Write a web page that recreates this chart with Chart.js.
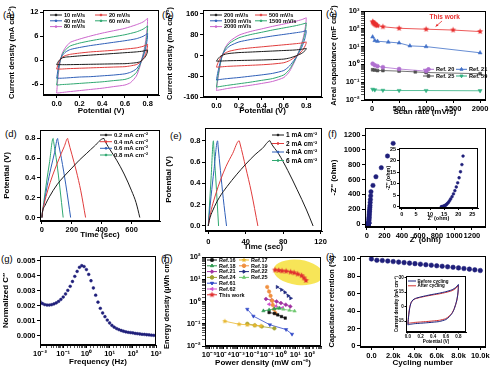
<!DOCTYPE html>
<html><head><meta charset="utf-8">
<script src="https://cdn.jsdelivr.net/npm/chart.js@4.4.1/dist/chart.umd.min.js"></script>
<style>
html,body{margin:0;padding:0;background:#fff;}
body{width:490px;height:370px;position:relative;overflow:hidden;}
canvas{position:absolute;}
.plab{position:absolute;font-family:"Liberation Sans",Arial,sans-serif;font-size:9.5px;line-height:1;color:#000;}
</style></head><body>
<div class="plab" style="left:3px;top:10px">(a)</div>
<div class="plab" style="left:162px;top:10px">(b)</div>
<div class="plab" style="left:326px;top:9px">(c)</div>
<div class="plab" style="left:5px;top:129px">(d)</div>
<div class="plab" style="left:170px;top:131px">(e)</div>
<div class="plab" style="left:328px;top:129px">(f)</div>
<div class="plab" style="left:1px;top:254px">(g)</div>
<div class="plab" style="left:161px;top:254px">(h)</div>
<div class="plab" style="left:326px;top:252px">(i)</div>
<script>
// ================= DATA =================
// tick values
const potTicks = [0, 0.2, 0.4, 0.6, 0.8];
const aYTicks = [-6, 0, 6, 12];
const bYTicks = [-160, -80, 0, 80, 160];
const cXTicks = [0, 500, 1000, 1500, 2000];
const dXTicks = [0, 200, 400, 600];
const eXTicks = [0, 40, 80, 120];
const fTicks = [0, 200, 400, 600, 800, 1000, 1200];
const fInTicks = [0, 5, 10, 15, 20, 25];
const gYTicks = [0, 0.001, 0.002, 0.003, 0.004, 0.005];
const iXTicks = [0, 2000, 4000, 6000, 8000, 10000];
const iYTicks = [0, 20, 40, 60, 80, 100];
const iInYTicks = [-15, 0, 15, 30];

// (a) CV at low scan rates: forward / reverse potential grids and currents (mA cm-2)
const cvFwdV = [0, 0.005, 0.015, 0.03, 0.05, 0.08, 0.12, 0.2, 0.3, 0.4, 0.5, 0.6, 0.7, 0.76, 0.8];
const cvRevV = [0.8, 0.798, 0.79, 0.775, 0.755, 0.73, 0.7, 0.65, 0.6, 0.5, 0.4, 0.3, 0.2, 0.1, 0.04, 0.01, 0];
const aLabels = ['10 mV/s', '20 mV/s', '40 mV/s', '60 mV/s', '80 mV/s'];
const a10Fwd = [-1.1, -0.8, -0.3, 0.2, 0.6, 0.8, 0.9, 1.1, 1.3, 1.5, 1.7, 1.9, 2.1, 2.3, 2.6];
const a10Rev = [2.6, 2.1, 1.4, 0.7, 0.1, -0.4, -0.6, -0.75, -0.85, -0.9, -0.95, -1.0, -1.05, -1.1, -1.1, -1.1, -1.1];
const a20Fwd = [-2.2, -1.7, -0.8, 0.1, 0.8, 1.2, 1.5, 1.8, 2.1, 2.3, 2.5, 2.8, 3.1, 3.5, 4.0];
const a20Rev = [4.0, 3.3, 2.3, 1.1, 0.2, -0.6, -1.1, -1.4, -1.6, -1.7, -1.8, -1.9, -2.0, -2.1, -2.2, -2.2, -2.2];
const a40Fwd = [-4.5, -3.6, -1.8, 0, 1.2, 2.1, 2.7, 3.2, 3.7, 4.1, 4.5, 4.9, 5.4, 6.0, 6.7];
const a40Rev = [6.7, 5.6, 4.0, 2.1, 0.5, -1.0, -2.2, -3.0, -3.4, -3.7, -3.9, -4.1, -4.2, -4.4, -4.5, -4.5, -4.5];
const a60Fwd = [-6.2, -5.0, -2.6, -0.3, 1.5, 2.7, 3.6, 4.3, 4.9, 5.4, 5.9, 6.4, 7.1, 7.8, 8.6];
const a60Rev = [8.6, 7.3, 5.2, 2.8, 0.7, -1.4, -3.1, -4.3, -4.8, -5.1, -5.4, -5.6, -5.8, -6.0, -6.1, -6.2, -6.2];
const a80Fwd = [-8.2, -6.5, -3.5, -0.5, 1.8, 3.3, 4.5, 5.3, 6.1, 6.8, 7.4, 8.0, 8.9, 9.6, 10.5];
const a80Rev = [10.5, 9.0, 6.5, 3.5, 1.0, -1.8, -4.0, -5.6, -6.2, -6.6, -7.0, -7.3, -7.6, -7.9, -8.1, -8.2, -8.2];
// (b) CV at high scan rates
const bLabels = ['200 mV/s', '500 mV/s', '1000 mV/s', '1500 mV/s', '2000 mV/s'];
const b200Fwd = [-22, -18, -12, -5, 0, 5, 8, 11, 13, 15, 17, 19, 21, 24, 27];
const b200Rev = [27, 24, 19, 13, 7, 2, -3, -10, -14, -16, -17.5, -18.5, -19.5, -20.5, -21.5, -22, -22];
const b500Fwd = [-45, -38, -27, -13, 0, 10, 17, 24, 29, 33, 37, 41, 45, 48, 52];
const b500Rev = [52, 46, 37, 25, 14, 4, -6, -20, -28, -33, -36, -38, -40, -42, -44, -45, -45];
const b1000Fwd = [-95, -81, -59, -31, -1, 21, 37, 52, 61, 68, 75, 81, 87, 91, 96];
const b1000Rev = [96, 86, 69, 48, 27, 7, -13, -41, -58, -69, -75, -80, -85, -89, -92, -94, -95];
const b1500Fwd = [-122, -104, -76, -40, -2, 28, 48, 68, 80, 89, 98, 106, 114, 120, 125];
const b1500Rev = [125, 112, 90, 62, 36, 10, -17, -54, -75, -89, -96, -103, -109, -115, -119, -121, -122];
const b2000Fwd = [-135, -115, -85, -45, -2, 32, 55, 78, 92, 102, 112, 121, 131, 138, 145];
const b2000Rev = [145, 130, 105, 72, 42, 12, -20, -62, -85, -100, -108, -115, -121, -127, -132, -134, -135];
// (c) areal capacitance vs scan rate
const cRef20X = [10, 50, 100, 200, 500, 1000];
const cRef20Y = [1.1, 0.9, 0.8, 0.7, 0.55, 0.42];
const cRef21X = [10, 50, 100, 300, 500, 700, 1000, 2000];
const cRef21Y = [35, 22, 20, 18, 16, 11, 10, 4.5];
const cRef25X = [10, 50, 100, 200, 500, 800, 1000, 2000];
const cRef25Y = [0.5, 0.48, 0.45, 0.45, 0.42, 0.38, 0.35, 0.3];
const cRef59X = [10, 50, 200, 500, 1000, 2000];
const cRef59Y = [0.04, 0.037, 0.035, 0.034, 0.034, 0.033];
const cThisX = [10, 20, 30, 40, 50, 60, 80, 100, 200, 500, 1000, 1500, 2000];
const cThisY = [250, 230, 210, 200, 185, 170, 160, 150, 130, 107, 95, 85, 70];
// (d) charge/discharge at 0.2-0.8 mA cm-2 (time s, potential V)
const d02T = [0, 3, 20, 50, 100, 150, 200, 250, 300, 350, 415, 420, 450, 500, 550, 600, 630, 655];
const d02V = [0, 0.05, 0.12, 0.21, 0.33, 0.42, 0.5, 0.58, 0.65, 0.72, 0.8, 0.78, 0.7, 0.58, 0.44, 0.27, 0.15, 0];
const d04T = [0, 3, 15, 40, 70, 100, 130, 150, 172, 175, 200, 230, 260, 292];
const d04V = [0, 0.05, 0.14, 0.28, 0.42, 0.54, 0.65, 0.72, 0.8, 0.78, 0.64, 0.47, 0.27, 0];
const d06T = [0, 3, 15, 35, 60, 85, 105, 108, 130, 160, 192];
const d06V = [0, 0.05, 0.15, 0.32, 0.5, 0.66, 0.8, 0.77, 0.6, 0.33, 0];
const d08T = [0, 3, 12, 30, 50, 75, 78, 100, 120, 142];
const d08V = [0, 0.05, 0.15, 0.35, 0.55, 0.8, 0.77, 0.55, 0.3, 0];
// (e) charge/discharge at 1-6 mA cm-2
const e1T = [0, 1, 5, 12, 20, 30, 40, 50, 58, 66, 67, 75, 85, 95, 105, 112];
const e1V = [0, 0.05, 0.15, 0.27, 0.37, 0.48, 0.58, 0.67, 0.73, 0.8, 0.78, 0.68, 0.52, 0.34, 0.15, 0];
const e2T = [0, 1, 4, 8, 13, 19, 26, 33, 34, 40, 46, 53];
const e2V = [0, 0.06, 0.18, 0.3, 0.43, 0.56, 0.68, 0.8, 0.77, 0.55, 0.32, 0];
const e4T = [0, 1, 3, 6, 10, 10.5, 13, 16, 19.5];
const e4V = [0, 0.1, 0.28, 0.52, 0.8, 0.75, 0.52, 0.26, 0];
const e6T = [0, 1, 3, 5.5, 6, 8, 11];
const e6V = [0, 0.15, 0.45, 0.8, 0.72, 0.45, 0];
// (f) Nyquist plot (ohm)
const fRe = [14.0,14.3,14.6,14.9,15.2,15.5,15.8,16.1,16.5,16.9,17.3,17.8,18.3,18.8,19.3,19.8,20.3,20.8,21.3,21.7,22.5,23,24,25,26,27,28,29.5,31,33,35,37.5,40,43,46,69,103,164,235,300];
const fIm = [0.05,0.1,0.2,0.35,0.5,0.7,1.0,1.4,1.9,2.6,3.4,4.4,5.6,7.0,8.6,10.4,12.6,15.2,18.3,22,45,58,75,92,110,130,150,172,195,222,250,290,330,380,436,521,638,760,917,1088];
// (g) normalized imaginary capacitance vs frequency
const gFreq = [0.01,0.0126,0.0158,0.02,0.0251,0.0316,0.0398,0.0501,0.0631,0.0794,0.1,0.126,0.158,0.2,0.251,0.316,0.398,0.501,0.631,0.794,1,1.26,1.58,2,2.51,3.16,3.98,5.01,6.31,7.94,10,12.6,15.8,20,25.1,31.6,39.8,50.1,63.1,79.4,100,126,158,200,251,316,398,501,631,794,1000];
const gC = [0.00228,0.00215,0.00208,0.00205,0.00205,0.00207,0.00212,0.00219,0.00229,0.00242,0.00258,0.00278,0.00302,0.00329,0.00361,0.00395,0.00428,0.00455,0.00466,0.0046,0.0044,0.00408,0.00366,0.00318,0.0027,0.00224,0.00183,0.00152,0.00128,0.00105,0.00086,0.0007,0.00058,0.00049,0.00042,0.00036,0.00031,0.00027,0.00024,0.00022,0.0002,0.00017,0.00015,0.00013,0.00011,0.0001,0.00008,0.00007,0.00005,0.00004,0.00003];
// (h) Ragone plot (power mW cm-2, energy uWh cm-2)
const h16X = [0.15, 0.35, 0.6, 1.1, 2.0];       const h16Y = [0.32, 0.29, 0.25, 0.21, 0.18];
const h17X = [1.2e-4, 1.2e-3, 4.5e-3, 1.5e-2, 4e-2]; const h17Y = [0.13, 0.095, 0.09, 0.085, 0.08];
const h18X = [0.06, 0.15, 0.35, 0.8];           const h18Y = [0.38, 0.42, 0.47, 0.5];
const h19X = [0.11, 0.15, 0.19, 0.24, 0.27, 0.33, 0.41]; const h19Y = [4.5, 2.8, 1.8, 1.1, 0.7, 0.45, 0.3];
const h21X = [0.09, 0.23, 0.5, 1.0, 2.2, 4.5];  const h21Y = [1.3, 1.15, 1.0, 0.85, 0.72, 0.6];
const h22X = [0.55, 1.1, 1.9, 3.2, 4.8];        const h22Y = [4.5, 3.4, 2.6, 1.8, 1.4];
const h24X = [4.5e-3, 1.5e-2, 4.6e-2, 0.35];    const h24Y = [0.1, 0.085, 0.075, 0.062];
const h25X = [0.6, 1.5, 4, 9];                  const h25Y = [0.5, 0.45, 0.4, 0.37];
const h61X = [4.5e-3, 1.2e-2, 0.17, 2.3, 6];    const h61Y = [0.45, 0.22, 0.09, 0.055, 0.034];
const h62X = [0.15, 0.45, 1.3];                 const h62Y = [0.75, 0.62, 0.52];
const hThisX = [0.39, 0.71, 1.2, 2.3, 4.8, 8.3, 15, 28, 41, 56];
const hThisY = [26, 25, 23.5, 23, 21, 19.5, 17, 14.5, 11.5, 8.8];
// (i) cycling stability and inset CV
const iCyc = [0,500,1000,1500,2000,2500,3000,3500,4000,4500,5000,5500,6000,6500,7000,7500,8000,8500,9000,9500,10000];
const iRet = [100, 98.5, 98.2, 97.6, 97.0, 96.4, 95.8, 95.2, 94.6, 94.0, 93.4, 92.8, 92.2, 91.6, 91.0, 90.4, 89.7, 89.0, 88.3, 87.5, 86.7];
const iBeforeFwd = [-19, -15, -8, -1, 4, 7, 8.5, 10, 11.5, 12.8, 14, 15.5, 17.5, 20, 23];
const iBeforeRev = [23, 19, 13, 7, 2, -3, -7, -11, -13.5, -15.5, -16.2, -16.8, -17.3, -17.8, -18.4, -18.8, -19];
const iAfterFwd = [-17.5, -13.5, -7, -0.5, 4, 6.8, 8.2, 9.6, 11, 12.2, 13.3, 14.7, 16.6, 19, 22];
const iAfterRev = [22, 18, 12.3, 6.5, 1.8, -2.7, -6.5, -10, -12.5, -14.2, -14.9, -15.5, -16, -16.5, -17, -17.3, -17.5];

// ================= HELPERS =================
const FONT = '"Liberation Sans", Arial, Helvetica, sans-serif';
const SUPS = {'-':'\u207B','0':'\u2070','1':'\u00B9','2':'\u00B2','3':'\u00B3','4':'\u2074','5':'\u2075','6':'\u2076','7':'\u2077','8':'\u2078','9':'\u2079'};
function isPow10(v){ if(!(v>0)) return false; const l=Math.log10(v); return Math.abs(l-Math.round(l))<1e-6; }
function pow10Label(v){ if(!isPow10(v)) return ''; return '10'+String(Math.round(Math.log10(v))).split('').map(c=>SUPS[c]).join(''); }
function starImg(color, r){
  const s=Math.ceil(r*2+2), c=document.createElement('canvas'); c.width=c.height=s;
  const g=c.getContext('2d'); g.fillStyle=color; g.beginPath();
  for(let i=0;i<10;i++){ const a=-Math.PI/2+i*Math.PI/5, rr=(i%2)?r*0.45:r; g.lineTo(s/2+rr*Math.cos(a), s/2+rr*Math.sin(a)); }
  g.closePath(); g.fill(); return c;
}
function xy(xs, ys){ return xs.map((x,i)=>({x:x, y:ys[i]})); }
function loop(fv, fi, rv, ri){ return xy(fv,fi).concat(xy(rv,ri)); }
function lineDS(label, data, color, extra){ return Object.assign({label, data, borderColor:color, backgroundColor:color, showLine:true, pointRadius:0, borderWidth:1, tension:0}, extra||{}); }
function markDS(label, data, color, style, r, extra){ return Object.assign({label, data, borderColor:color, backgroundColor:color, showLine:true, pointRadius:r, pointStyle:style, pointBorderWidth:0.5, borderWidth:0.8, tension:0}, extra||{}); }

function scaleBase(title, tick, tsz, tl, log){
  return {
    grid:{display:true, drawOnChartArea:false, drawTicks:true, tickLength:tl, color:'#000', lineWidth:1,
          tickColor: log ? (ctx => (ctx.tick && isPow10(ctx.tick.value)) ? '#000' : '#555') : '#000', tickWidth:1},
    border:{display:true, color:'#000', width:1},
    ticks:{color:'#000', font:{family:FONT, size:tick, weight:'bold'}, padding:1.5, maxRotation:0, minRotation:0, autoSkip:false, includeBounds:false},
    title:{display:true, text:title, color:'#000', font:{family:FONT, size:tsz, weight:'bold', lineHeight:1.2}, padding:0}
  };
}
function lin(title, min, max, tickVals, fmt, o){
  o=o||{}; const s=scaleBase(title, o.tick||7.5, o.title||8, o.tl||3, false);
  s.type='linear'; s.min=min; s.max=max; s.ticks.callback=fmt; if(o.pad!=null) s.ticks.padding=o.pad;
  s.afterBuildTicks = sc => { sc.ticks = tickVals.map(v=>({value:v})); };
  return s;
}
function logAx(title, min, max, o){ o=o||{}; const s=scaleBase(title, o.tick||7.5, o.title||8, o.tl||3, true); s.type='logarithmic'; s.min=min; s.max=max; s.ticks.callback=v=>pow10Label(v); return s; }

function framePlugin(white){ return {id:'frame',
  beforeDraw(c){ if(!white) return; const a=c.chartArea, g=c.ctx; g.save(); g.fillStyle='#fff'; g.fillRect(a.left,a.top,a.right-a.left,a.bottom-a.top); g.restore(); },
  afterDraw(c){ const a=c.chartArea, g=c.ctx; g.save(); g.strokeStyle='#000'; g.lineWidth=1;
    const L=Math.round(a.left), T=Math.round(a.top), R=Math.round(a.right), B=Math.round(a.bottom);
    g.strokeRect(L+0.5, T+0.5, R-L-1, B-T-1); g.restore(); } }; }

function legendPlugin(cfg){ return {id:'boxLegend', afterDatasetsDraw(c){
  if(!cfg) return; const g=c.ctx, a=c.chartArea; g.save();
  g.font='bold '+cfg.size+'px '+FONT; g.textBaseline='middle'; g.textAlign='left';
  cfg.items.forEach(it=>{
    const ds=c.data.datasets[it.i]; const x=a.left+it.x, y=a.top+it.y, col=ds.borderColor;
    g.strokeStyle=col; g.fillStyle=col; g.lineWidth=1;
    g.beginPath(); g.moveTo(x,y); g.lineTo(x+cfg.line,y); g.stroke();
    const useDot = cfg.dot!=null;
    const r = useDot ? cfg.dot : Math.min(ds.pointRadius||0, cfg.mr||2);
    if(r>0){
      if(Chart.helpers && Chart.helpers.drawPoint){
        Chart.helpers.drawPoint(g, {pointStyle: useDot?'circle':(ds.pointStyle||'circle'), radius:r, rotation: ds.pointRotation||0, borderWidth:0.5}, x+cfg.line/2, y);
      } else { g.beginPath(); g.arc(x+cfg.line/2,y,r,0,Math.PI*2); g.fill(); }
    }
    g.fillStyle='#000'; g.fillText(ds.label, x+cfg.line+(cfg.gap||2), y+0.3);
  });
  g.restore(); } }; }

function notesPlugin(cfg){ return {id:'notes',
  beforeDatasetsDraw(c){
    if(!cfg || !cfg.ellipse) return; const e=cfg.ellipse, X=c.scales.x, Y=c.scales.y, g=c.ctx, a=c.chartArea;
    const x0=X.getPixelForValue(e.x0), x1=X.getPixelForValue(e.x1), y0=Y.getPixelForValue(e.y0), y1=Y.getPixelForValue(e.y1);
    g.save(); g.beginPath(); g.rect(a.left,a.top,a.right-a.left,a.bottom-a.top); g.clip();
    g.fillStyle=e.color; g.beginPath(); g.ellipse((x0+x1)/2,(y0+y1)/2,Math.abs(x1-x0)/2,Math.abs(y1-y0)/2,e.rot,0,Math.PI*2); g.fill(); g.restore();
  },
  afterDatasetsDraw(c){
    if(!cfg) return; const X=c.scales.x, Y=c.scales.y, g=c.ctx; g.save();
    (cfg.texts||[]).forEach(t=>{ g.font='bold '+t.size+'px '+FONT; g.fillStyle=t.color; g.textAlign='center'; g.textBaseline='middle'; g.fillText(t.text, X.getPixelForValue(t.x), Y.getPixelForValue(t.y)); });
    (cfg.arrows||[]).forEach(ar=>{
      const ax=X.getPixelForValue(ar.x0), ay=Y.getPixelForValue(ar.y0), bx=X.getPixelForValue(ar.x1), by=Y.getPixelForValue(ar.y1);
      g.strokeStyle=ar.color; g.fillStyle=ar.color; g.lineWidth=0.8;
      g.beginPath(); g.moveTo(ax,ay); g.lineTo(bx,by); g.stroke();
      const ang=Math.atan2(by-ay,bx-ax), h=3;
      g.beginPath(); g.moveTo(bx,by); g.lineTo(bx-h*Math.cos(ang-0.45), by-h*Math.sin(ang-0.45)); g.lineTo(bx-h*Math.cos(ang+0.45), by-h*Math.sin(ang+0.45)); g.closePath(); g.fill();
    });
    g.restore();
  } }; }

function mkCanvas(x,y,w,h){ const c=document.createElement('canvas'); c.width=w; c.height=h; c.style.left=x+'px'; c.style.top=y+'px'; c.style.width=w+'px'; c.style.height=h+'px'; document.body.appendChild(c); return c; }

function makeChart(spec){
  const [cx,cy,cw,ch]=spec.canvas, [l,t,r,b]=spec.box; const sx=spec.x, sy=spec.y;
  const yLeft = spec.yTitleX - sy.title.font.size*0.6;
  const xBottom = spec.xTitleY + sx.title.font.size*0.6;
  const yW = l - yLeft, xH = xBottom - b;
  sx.position='bottom'; sy.position='left';
  sx.afterFit = s => { s.height = xH; s.paddingLeft = 0; s.paddingRight = 0; };
  sy.afterFit = s => { s.width = yW; s.paddingTop = 0; s.paddingBottom = 0; };
  return new Chart(mkCanvas(cx,cy,cw,ch), {
    type:'scatter',
    data:{datasets:spec.datasets},
    options:{
      responsive:false, maintainAspectRatio:false, animation:false, devicePixelRatio:1, events:[],
      layout:{padding:{left:yLeft-cx, top:t-cy, right:cx+cw-r, bottom:cy+ch-xBottom}},
      scales:{x:sx, y:sy},
      plugins:{legend:{display:false}, tooltip:{enabled:false}}
    },
    plugins:[framePlugin(!!spec.white), legendPlugin(spec.legend), notesPlugin(spec.notes)]
  });
}

const BLK='#1a1a1a', RED='#e03c3c', BLU='#2f5fb8', GRN='#2fa870', MAG='#cc66cc', NAVY='#1f1f7a';
const fmtStr = v => String(v);
const fmt1 = v => v.toFixed(1);
const cvOpt = {tension:0.2};

// (a)
makeChart({canvas:[0,0,163,122], box:[43,10,159,95], yTitleX:12, xTitleY:111,
  x: lin('Potential (V)', -0.12, 0.9, potTicks, fmt1),
  y: lin('Current density (mA cm\u207B\u00B2)', -8.7, 12.6, aYTicks, fmtStr, {title:7.5}),
  datasets:[
    lineDS(aLabels[0], loop(cvFwdV,a10Fwd,cvRevV,a10Rev), BLK, cvOpt),
    lineDS(aLabels[1], loop(cvFwdV,a20Fwd,cvRevV,a20Rev), RED, cvOpt),
    lineDS(aLabels[2], loop(cvFwdV,a40Fwd,cvRevV,a40Rev), BLU, cvOpt),
    lineDS(aLabels[3], loop(cvFwdV,a60Fwd,cvRevV,a60Rev), GRN, cvOpt),
    lineDS(aLabels[4], loop(cvFwdV,a80Fwd,cvRevV,a80Rev), MAG, cvOpt)],
  legend:{size:5.6, line:12, gap:2, dot:0.9, items:[{i:0,x:7,y:5},{i:1,x:52,y:5},{i:2,x:7,y:10.8},{i:3,x:52,y:10.8},{i:4,x:7,y:16.6}]}
});
// (b)
makeChart({canvas:[163,0,164,122], box:[203,10,322,97], yTitleX:170, xTitleY:111,
  x: lin('Potential (V)', -0.12, 0.94, potTicks, fmt1),
  y: lin('Current density (mA cm\u207B\u00B2)', -160, 175, bYTicks, fmtStr, {title:7.5}),
  datasets:[
    lineDS(bLabels[0], loop(cvFwdV,b200Fwd,cvRevV,b200Rev), BLK, cvOpt),
    lineDS(bLabels[1], loop(cvFwdV,b500Fwd,cvRevV,b500Rev), RED, cvOpt),
    lineDS(bLabels[2], loop(cvFwdV,b1000Fwd,cvRevV,b1000Rev), BLU, cvOpt),
    lineDS(bLabels[3], loop(cvFwdV,b1500Fwd,cvRevV,b1500Rev), GRN, cvOpt),
    lineDS(bLabels[4], loop(cvFwdV,b2000Fwd,cvRevV,b2000Rev), MAG, cvOpt)],
  legend:{size:5.6, line:12, gap:2, dot:0.9, items:[{i:0,x:7,y:5},{i:1,x:52,y:5},{i:2,x:7,y:10.8},{i:3,x:52,y:10.8},{i:4,x:7,y:16.6}]}
});
// (c)
const starRed = starImg('#e83030', 3.2);
makeChart({canvas:[327,0,163,122], box:[364,11,487,100], yTitleX:334, xTitleY:112,
  x: lin('Scan rate (mV/s)', -150, 2100, cXTicks, fmtStr),
  y: logAx('Areal capacitance (mF cm\u207B\u00B2)', 0.01, 1000, {title:7.5}),
  datasets:[
    markDS('Ref. 20', xy(cRef20X,cRef20Y), '#b070d0', 'circle', 2),
    markDS('Ref. 21', xy(cRef21X,cRef21Y), '#4070c8', 'triangle', 2.3),
    markDS('Ref. 25', xy(cRef25X,cRef25Y), '#505050', 'rect', 2),
    markDS('Ref. 59', xy(cRef59X,cRef59Y), '#30b080', 'triangle', 2.3, {pointRotation:180}),
    markDS('This work', xy(cThisX,cThisY), '#e83030', starRed, 3)],
  legend:{size:5.6, line:11, gap:2, mr:1.8, items:[{i:0,x:59,y:58.3},{i:1,x:92,y:58.3},{i:2,x:59,y:65},{i:3,x:92,y:65}]},
  notes:{texts:[{x:1344, y:478, text:'This work', color:'#e83030', size:6.5}], arrows:[{x0:1295, y0:274, x1:1176, y1:134, color:'#e83030'}]}
});
// (d)
const gcdOpt = {cubicInterpolationMode:'monotone'};
makeChart({canvas:[0,122,163,130], box:[40,130,160,221], yTitleX:7, xTitleY:235,
  x: lin('Time (sec)', -13, 790, dXTicks, fmtStr),
  y: lin('Potential (V)', -0.035, 0.885, potTicks, fmt1),
  datasets:[
    lineDS('0.2 mA cm\u207B\u00B2', xy(d02T,d02V), BLK, gcdOpt),
    lineDS('0.4 mA cm\u207B\u00B2', xy(d04T,d04V), RED, gcdOpt),
    lineDS('0.6 mA cm\u207B\u00B2', xy(d06T,d06V), BLU, gcdOpt),
    lineDS('0.8 mA cm\u207B\u00B2', xy(d08T,d08V), GRN, gcdOpt)],
  legend:{size:6, line:12, gap:2, dot:0.9, items:[{i:0,x:60,y:5},{i:1,x:60,y:11.7},{i:2,x:60,y:18.3},{i:3,x:60,y:25}]}
});
// (e)
makeChart({canvas:[163,122,164,130], box:[205,128,322,231], yTitleX:169, xTitleY:247,
  x: lin('Time (sec)', -3.5, 121.5, eXTicks, fmtStr, {pad:3}),
  y: lin('Potential (V)', -0.047, 0.92, potTicks, fmt1),
  datasets:[
    lineDS('1 mA cm\u207B\u00B2', xy(e1T,e1V), BLK, gcdOpt),
    lineDS('2 mA cm\u207B\u00B2', xy(e2T,e2V), RED, gcdOpt),
    lineDS('4 mA cm\u207B\u00B2', xy(e4T,e4V), BLU, gcdOpt),
    lineDS('6 mA cm\u207B\u00B2', xy(e6T,e6V), GRN, gcdOpt)],
  legend:{size:6.5, line:12, gap:2, dot:0.9, items:[{i:0,x:67,y:7},{i:1,x:67,y:15.5},{i:2,x:67,y:24},{i:3,x:67,y:32.5}]}
});
// (f)
makeChart({canvas:[327,122,163,130], box:[365,128,488,227], yTitleX:334, xTitleY:240,
  x: lin("Z' (ohm)", -22, 1355, fTicks, fmtStr),
  y: lin("-Z'' (ohm)", -40, 1295, fTicks, fmtStr),
  datasets:[ markDS('Nyquist', xy(fRe,fIm), NAVY, 'circle', 2.2, {showLine:false}) ]
});
// (f) inset
makeChart({canvas:[378,140,110,84], box:[399,148,478,208], yTitleX:388, xTitleY:218.5, white:true,
  x: lin("Z' (ohm)", -1, 27, fInTicks, fmtStr, {tick:5.5, title:5.5, tl:2, pad:1}),
  y: lin("-Z'' (ohm)", -0.5, 25.5, fInTicks, fmtStr, {tick:5.5, title:5.5, tl:2, pad:1}),
  datasets:[ markDS('Nyquist', xy(fRe,fIm), NAVY, 'circle', 1.4, {showLine:false}) ]
});
// (g)
makeChart({canvas:[0,248,163,122], box:[40,256,156,345], yTitleX:6, xTitleY:362,
  x: logAx('Frequency (Hz)', 0.01, 1000),
  y: lin('Normalized C\u2033', -0.0006, 0.0053, gYTicks, v=>v.toFixed(3)),
  datasets:[ markDS('C', xy(gFreq,gC), NAVY, 'circle', 1.4, {showLine:false}) ]
});
// (h)
const starGold = starImg('#e8b830', 2.8), starRed2 = starImg('#e03030', 3.2);
makeChart({canvas:[163,248,164,122], box:[205,257,321,346], yTitleX:167, xTitleY:363,
  x: logAx('Power density (mW cm\u207B\u00B2)', Math.pow(10,-5.3), Math.pow(10,2.8)),
  y: logAx('Energy density (\u00B5Wh cm\u207B\u00B2)', 0.01, 100, {title:7.5}),
  datasets:[
    markDS('Ref.16', xy(h16X,h16Y), '#111111', 'rect', 1.8),
    markDS('Ref.17', xy(h17X,h17Y), '#e8b830', starGold, 2.5),
    markDS('Ref.18', xy(h18X,h18Y), '#2f9a50', 'triangle', 2),
    markDS('Ref.19', xy(h19X,h19Y), '#f09040', 'circle', 1.8),
    markDS('Ref.21', xy(h21X,h21Y), '#a030a0', 'rectRot', 2),
    markDS('Ref.22', xy(h22X,h22Y), '#202a80', 'triangle', 2, {pointRotation:90}),
    markDS('Ref.24', xy(h24X,h24Y), '#a0a030', 'circle', 1.8),
    markDS('Ref.25', xy(h25X,h25Y), '#70c870', 'triangle', 2),
    markDS('Ref.61', xy(h61X,h61Y), '#3048c8', 'triangle', 2, {pointRotation:180}),
    markDS('Ref.62', xy(h62X,h62Y), '#d050d0', 'triangle', 2, {pointRotation:270}),
    markDS('This work', xy(hThisX,hThisY), '#e03030', starRed2, 3)],
  legend:{size:5.5, line:10, gap:2, mr:1.8, items:[
    {i:0,x:2,y:3},{i:1,x:34,y:3},{i:2,x:2,y:8.8},{i:3,x:34,y:8.8},{i:4,x:2,y:14.6},{i:5,x:34,y:14.6},
    {i:6,x:2,y:20.4},{i:7,x:34,y:20.4},{i:8,x:2,y:26.2},{i:9,x:2,y:32},{i:10,x:2,y:37.8}]},
  notes:{ellipse:{x0:0.3, x1:900, y0:5.5, y1:75, rot:0.12, color:'rgba(246,226,70,0.9)'}}
});
// (i)
makeChart({canvas:[327,248,163,122], box:[360,256,488,347], yTitleX:332, xTitleY:363,
  x: lin('Cycling number', -1050, 10480, iXTicks, v => v===0 ? '0.0' : (v/1000).toFixed(1)+'k'),
  y: lin('Capacitance retention (%)', -1.2, 103.4, iYTicks, fmtStr, {title:7.5}),
  datasets:[ markDS('Retention', xy(iCyc,iRet), NAVY, 'circle', 2.3, {showLine:false}) ]
});
// (i) inset
makeChart({canvas:[388,268,84,82], box:[406,276,466,332], yTitleX:397, xTitleY:342, white:true,
  x: lin('Potential (V)', -0.03, 0.92, potTicks, fmt1, {tick:4.5, title:4.5, tl:1.5, pad:0.8}),
  y: lin('Current density (mA cm\u207B\u00B2)', -26.4, 31.8, iInYTicks, fmtStr, {tick:4.5, title:4.5, tl:1.5, pad:0.8}),
  datasets:[
    lineDS('Before cycling', loop(cvFwdV,iBeforeFwd,cvRevV,iBeforeRev), '#1a237e', cvOpt),
    lineDS('After cycling', loop(cvFwdV,iAfterFwd,cvRevV,iAfterRev), '#d03030', cvOpt)],
  legend:{size:4.5, line:8, gap:1.5, items:[{i:0,x:2,y:5},{i:1,x:2,y:9.8}]}
});
</script></body></html>
